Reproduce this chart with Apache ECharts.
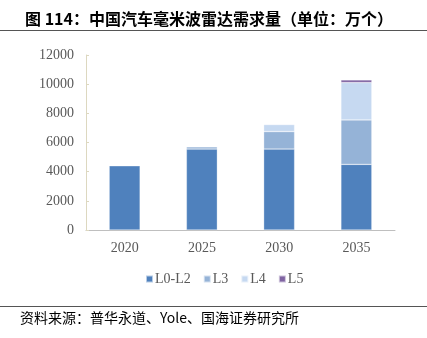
<!DOCTYPE html>
<html><head><meta charset="utf-8">
<script src="https://cdn.jsdelivr.net/npm/echarts@6/dist/echarts.min.js"></script>
<style>html,body{margin:0;padding:0;background:#fff}#c{width:427px;height:338px}</style>
</head><body><div id="c"></div>
<script>
var categories = ['2020', '2025', '2030', '2035'];
var seriesNames = ['L0-L2', 'L3', 'L4', 'L5'];
var l0l2 = [4400, 5550, 5550, 4500];
var l3 = [0, 150, 1200, 3050];
var l4 = [0, 0, 480, 2560];
var l5 = [0, 0, 0, 180];
var yTicks = [0, 2000, 4000, 6000, 8000, 10000, 12000];
var colors = ['#4F81BD', '#95B3D7', '#C6D9F1', '#8064A2'];
var values = [l0l2, l3, l4, l5];

var chart = echarts.init(document.getElementById('c'));
var serif = '"Liberation Serif", "Times New Roman", serif';
chart.setOption({
  animation: false,
  title: {
    text: '图 114：中国汽车毫米波雷达需求量（单位：万个）',
    left: 20, top: 6,
    textStyle: {fontFamily: '"Noto Sans CJK SC", sans-serif', fontSize: 16, fontWeight: 'bold', color: '#000'}
  },
  graphic: [
    {type: 'line', shape: {x1: 0, y1: 30.5, x2: 427, y2: 30.5}, style: {stroke: '#555', lineWidth: 1}},
    {type: 'line', shape: {x1: 0, y1: 306.5, x2: 427, y2: 306.5}, style: {stroke: '#555', lineWidth: 1}},
    {type: 'text', left: 20, top: 311, style: {text: '资料来源：普华永道、Yole、国海证券研究所', font: '14px "Noto Sans CJK SC", sans-serif', fill: '#000'}}
  ],
  legend: {
    data: seriesNames,
    top: 267, left: 140,
    itemWidth: 7, itemHeight: 7, itemGap: 12,
    icon: 'rect',
    textStyle: {fontFamily: serif, fontSize: 14, color: '#595959', padding: [0, 0, 0, -3]}
  },
  grid: {left: 86, right: 32, top: 55, bottom: 108},
  xAxis: {
    type: 'category', data: categories,
    axisLine: {lineStyle: {color: '#BFBFBF'}},
    axisTick: {show: false},
    axisLabel: {fontFamily: serif, fontSize: 14, color: '#595959', margin: 11}
  },
  yAxis: {
    type: 'value', min: yTicks[0], max: yTicks[yTicks.length - 1], interval: 2000,
    axisLine: {show: true, lineStyle: {color: '#DDD8C0'}},
    axisTick: {show: true, inside: true, length: 3, lineStyle: {color: '#DDD8C0'}},
    splitLine: {show: false},
    axisLabel: {fontFamily: serif, fontSize: 14, color: '#595959', margin: 12,
      formatter: function (v) { return String(v); }}
  },
  series: seriesNames.map(function (n, i) {
    return {
      name: n, type: 'bar', stack: 'total', barWidth: '40%',
      data: values[i].map(function (v) { return v === 0 ? null : v; }),
      itemStyle: {color: colors[i], borderColor: 'rgba(255,255,255,0.6)', borderWidth: 0.5}
    };
  })
});
</script></body></html>
